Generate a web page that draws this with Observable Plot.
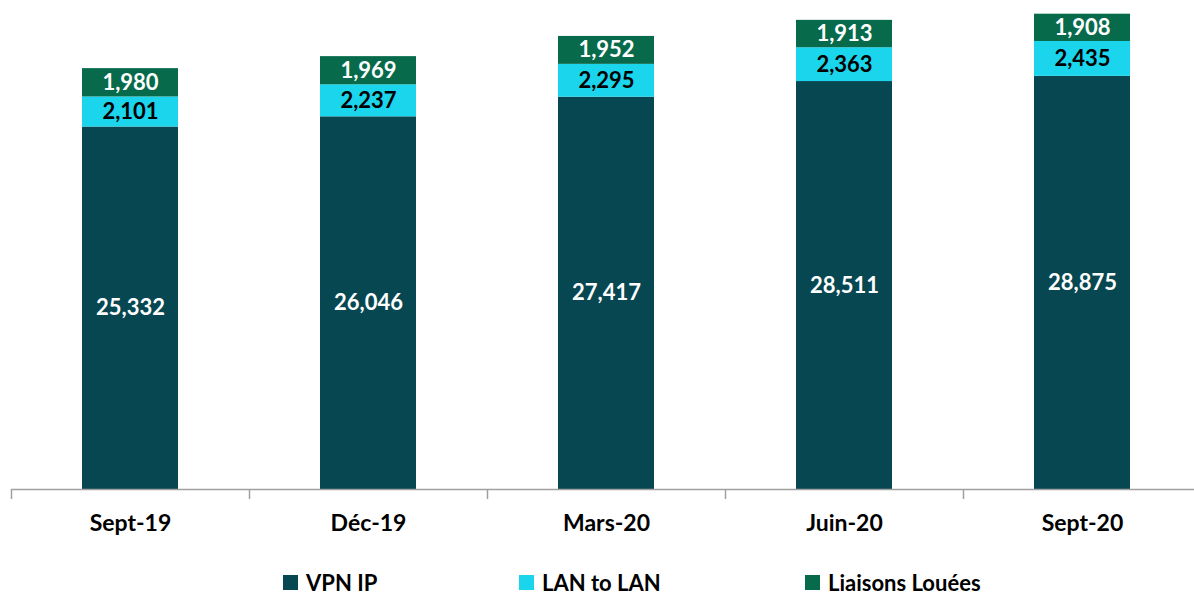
<!DOCTYPE html>
<html>
<head>
<meta charset="utf-8">
<script src="https://cdn.jsdelivr.net/npm/d3@7"></script>
<script src="https://cdn.jsdelivr.net/npm/@observablehq/plot@0.6"></script>
<style>
  html, body { margin: 0; padding: 0; background: #fff; overflow: hidden; width: 1194px; height: 594px; }
  #chart { position: absolute; left: 0; top: 0; }
  .legend { position: absolute; top: 571px; left: 0; width: 1194px; height: 23px; font-family: Lato, "Open Sans", sans-serif; font-weight: bold; font-size: 22px; line-height: 23px; color: #000; }
  .item { position: absolute; top: 0; display: flex; align-items: center; height: 23px; white-space: nowrap; }
  .sw { width: 15px; height: 15px; margin-right: 8px; display: inline-block; }
</style>
</head>
<body>
<div id="chart"></div>
<div class="legend" id="legend"></div>
<script>
const categories = ["Sept-19", "Déc-19", "Mars-20", "Juin-20", "Sept-20"];
const seriesNames = ["VPN IP", "LAN to LAN", "Liaisons Louées"];
const vpnIP = [25332, 26046, 27417, 28511, 28875];
const lanToLan = [2101, 2237, 2295, 2363, 2435];
const liaisons = [1980, 1969, 1952, 1913, 1908];
const colors = ["#074751", "#1ad5ec", "#076b4b"];

const seriesValues = [vpnIP, lanToLan, liaisons];
const data = [];
seriesNames.forEach((s, i) => categories.forEach((c, j) => data.push({cat: c, series: s, value: seriesValues[i][j]})));

const fmt = d3.format(",");
const font = "Lato, 'Open Sans', sans-serif";

const chart = Plot.plot({
  width: 1194,
  height: 548,
  marginLeft: 11,
  marginRight: 0,
  marginTop: 2.5,
  marginBottom: 59,
  style: {fontFamily: font, background: "#fff"},
  x: {domain: categories, range: [11, 1201], paddingInner: 0.597, paddingOuter: 0.2985, label: null},
  y: {domain: [0, 34000], axis: null},
  color: {domain: seriesNames, range: colors},
  marks: [
    Plot.barY(data, Plot.stackY({x: "cat", y: "value", fill: "series", order: seriesNames})),
    Plot.text(data, Plot.stackY({x: "cat", y: "value", z: "series", order: seriesNames, text: d => d.series !== "LAN to LAN" ? fmt(d.value) : "", fill: "white", fontSize: 22, fontWeight: "bold"})),
    Plot.text(data, Plot.stackY({x: "cat", y: "value", z: "series", order: seriesNames, text: d => d.series === "LAN to LAN" ? fmt(d.value) : "", fill: "black", fontSize: 22, fontWeight: "bold"})),
    Plot.ruleY([0], {stroke: "#a0a0a0", strokeWidth: 1.5}),
    Plot.axisX({tickSize: 10, dx: -119, tickFormat: () => "", stroke: "#a0a0a0", strokeWidth: 1.5, label: null}),
    Plot.axisX({tickSize: 0, tickPadding: 25, fontSize: 23, fontWeight: "bold", fill: "#000", label: null})
  ]
});
document.getElementById("chart").appendChild(chart);

const legendPos = [283, 519, 805];
const lg = document.getElementById("legend");
seriesNames.forEach((s, i) => {
  const it = document.createElement("div");
  it.className = "item";
  it.style.left = legendPos[i] + "px";
  it.innerHTML = `<span class="sw" style="background:${colors[i]}"></span><span>${s}</span>`;
  lg.appendChild(it);
});
</script>
</body>
</html>
